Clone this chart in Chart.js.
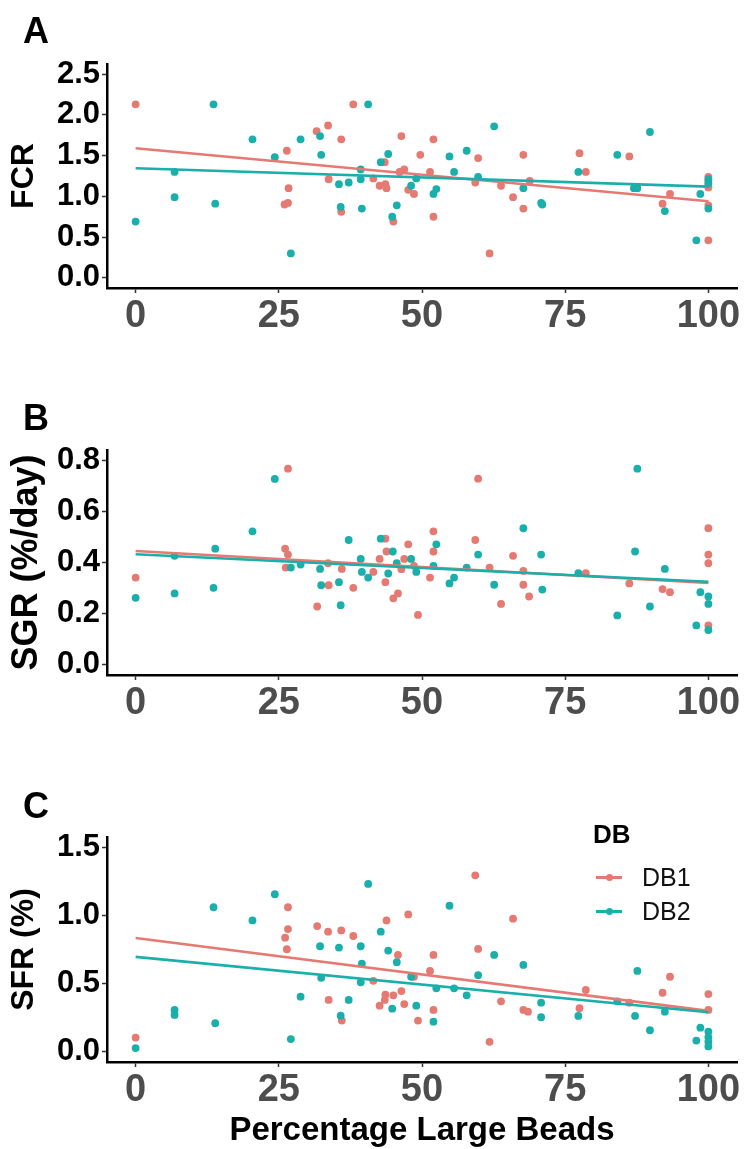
<!DOCTYPE html>
<html>
<head>
<meta charset="utf-8">
<script src="https://cdn.jsdelivr.net/npm/chart.js@4.4.1/dist/chart.umd.min.js"></script>
<style>
  body { margin: 0; background: #fff; }
  #wrap { position: relative; width: 745px; height: 1149px; background: #fff; font-family: "Liberation Sans", Arial, sans-serif; }
  #wrap canvas { position: absolute; left: 0; }
  .letter { position: absolute; left: 23px; font-size: 36px; font-weight: bold; line-height: 36px; color: #000; }
  .leg-title { position: absolute; left: 593px; top: 821px; font-size: 26px; font-weight: bold; line-height: 26px; }
  .leg-item { position: absolute; left: 596px; height: 26px; font-size: 25px; line-height: 26px; color: #111; }
  .leg-item .key { position: absolute; left: 0; top: 12px; width: 26px; height: 2.5px; }
  .leg-item .dot { position: absolute; left: 9.5px; top: -2.5px; width: 7px; height: 7px; border-radius: 50%; }
  .leg-item span.txt { position: absolute; left: 46px; top: 0; }
</style>
</head>
<body>
<div id="wrap">
  <canvas id="panelA" width="745" height="370" style="top:0px"></canvas>
  <canvas id="panelB" width="745" height="390" style="top:370px"></canvas>
  <canvas id="panelC" width="745" height="389" style="top:760px"></canvas>

  <div class="letter" style="top:13px">A</div>
  <div class="letter" style="top:400px">B</div>
  <div class="letter" style="top:788px">C</div>

  <div class="leg-title">DB</div>
  <div class="leg-item" style="top:864px"><div class="key" id="keyDb1"><div class="dot" id="dotDb1"></div></div><span class="txt">DB1</span></div>
  <div class="leg-item" style="top:898px"><div class="key" id="keyDb2"><div class="dot" id="dotDb2"></div></div><span class="txt">DB2</span></div>
</div>

<script>
// group colours
const colorDb1 = '#E47A72';
const colorDb2 = '#1AAFAA';

// x axis (percentage large beads)
const xTicks = [0, 25, 50, 75, 100];
const fitX = [0, 100];

// A - FCR
const fcrDb1X = [0, 26.4, 26.7, 26, 26.6, 31.6, 33.6, 35.9, 33.7, 38, 35.9, 43.5, 41.5, 42.6, 43.6, 43.8, 45, 46.4, 46.1, 46.9, 47.6, 48.6, 49.7, 52, 51.4, 52, 59.8, 59.3, 61.8, 63.8, 65.9, 67.7, 67.7, 68.8, 77.5, 78.6, 86.2, 92, 93.3, 100, 100, 100, 100, 100, 100];
const fcrDb1Y = [2.13, 1.56, 1.10, 0.90, 0.92, 1.80, 1.87, 1.70, 1.21, 2.13, 0.81, 1.42, 1.22, 1.13, 1.15, 1.10, 0.69, 1.74, 1.30, 1.33, 1.08, 1.03, 1.51, 1.70, 1.30, 0.75, 1.47, 1.17, 0.30, 1.13, 0.99, 1.51, 0.85, 1.19, 1.53, 1.30, 1.49, 0.91, 1.03, 1.24, 1.19, 1.13, 1.11, 0.89, 0.46];
const fcrDb2X = [0, 6.8, 6.8, 13.6, 13.9, 20.4, 24.3, 27.1, 28.8, 32.2, 32.4, 35.5, 37.2, 35.8, 39.3, 39.3, 39.5, 40.6, 42.8, 44.1, 48.1, 45.6, 44.8, 49, 52, 52.5, 54.8, 55.6, 57.8, 59.8, 62.6, 67.7, 70.8, 71, 77.3, 84.1, 87, 87.6, 89.8, 92.4, 97.9, 98.6, 100, 100, 100];
const fcrDb2Y = [0.69, 1.30, 0.99, 2.13, 0.91, 1.70, 1.48, 0.30, 1.70, 1.74, 1.51, 1.15, 1.17, 0.87, 1.33, 1.21, 0.85, 2.13, 1.42, 1.52, 1.13, 0.89, 0.75, 1.22, 1.03, 1.09, 1.49, 1.30, 1.56, 1.24, 1.86, 1.10, 0.92, 0.90, 1.30, 1.51, 1.10, 1.10, 1.79, 0.82, 0.46, 1.03, 1.21, 1.16, 0.85];
const fcrFitDb1 = [1.59, 0.94];
const fcrFitDb2 = [1.345, 1.12];

// B - SGR
const sgrDb1X = [0, 26.6, 26.1, 26.6, 26.2, 31.7, 33.7, 33.6, 36, 38, 41.5, 42.6, 43.6, 43.8, 43.6, 45, 45.8, 46.4, 46.9, 47.6, 48.6, 49.3, 52, 52, 51.4, 59.8, 59.3, 61.8, 63.8, 65.9, 67.7, 68.7, 67.7, 78.6, 86.2, 92, 93.3, 100, 100, 100, 100];
const sgrDb1Y = [0.341, 0.767, 0.454, 0.431, 0.380, 0.228, 0.311, 0.397, 0.375, 0.301, 0.363, 0.414, 0.493, 0.443, 0.323, 0.260, 0.279, 0.374, 0.414, 0.471, 0.387, 0.195, 0.522, 0.443, 0.341, 0.728, 0.488, 0.380, 0.238, 0.426, 0.313, 0.267, 0.367, 0.358, 0.318, 0.296, 0.284, 0.534, 0.431, 0.397, 0.154];
const sgrDb2X = [0, 6.8, 6.8, 13.9, 13.6, 20.4, 24.3, 27.1, 28.8, 32.2, 32.4, 35.5, 35.8, 37.2, 39.3, 39.5, 40.6, 42.8, 44.9, 44.1, 45.6, 48.1, 49, 54.8, 55.6, 52.5, 52, 57.8, 59.8, 62.6, 67.7, 70.8, 71, 77.3, 84.1, 87.2, 87.6, 89.8, 92.4, 97.9, 98.6, 100, 100, 100];
const sgrDb2Y = [0.262, 0.426, 0.279, 0.454, 0.301, 0.522, 0.727, 0.380, 0.392, 0.375, 0.311, 0.323, 0.233, 0.488, 0.414, 0.363, 0.341, 0.493, 0.443, 0.357, 0.397, 0.414, 0.363, 0.318, 0.341, 0.471, 0.387, 0.380, 0.431, 0.313, 0.534, 0.431, 0.294, 0.358, 0.193, 0.443, 0.767, 0.228, 0.375, 0.154, 0.284, 0.267, 0.238, 0.136];
const sgrFitDb1 = [0.445, 0.32];
const sgrFitDb2 = [0.432, 0.325];

// C - SFR
const sfrDb1X = [0, 26.6, 26.6, 26.1, 26.4, 31.7, 33.6, 35.9, 38, 33.7, 36, 41.5, 42.6, 43.6, 43.5, 43.8, 45, 45.8, 46.4, 46.9, 47.6, 48.6, 49.3, 52, 51.4, 52, 59.3, 59.8, 61.8, 63.8, 65.9, 67.7, 68.5, 78.6, 77.5, 86.2, 92, 93.3, 100, 100];
const sfrDb1Y = [0.104, 1.06, 0.90, 0.837, 0.752, 0.922, 0.881, 0.89, 0.849, 0.38, 0.229, 0.52, 0.338, 0.418, 0.38, 0.963, 0.414, 0.71, 0.445, 0.35, 1.007, 0.55, 0.229, 0.71, 0.593, 0.307, 1.294, 0.754, 0.073, 0.37, 0.976, 0.307, 0.294, 0.453, 0.319, 0.36, 0.433, 0.55, 0.423, 0.307];
const sfrDb2X = [0, 6.8, 6.8, 13.6, 13.9, 20.4, 24.3, 27.1, 28.8, 32.2, 32.4, 35.5, 35.8, 37.2, 39.3, 39.5, 39.3, 40.6, 42.8, 44.1, 45.6, 44.8, 48.1, 49, 52, 52.5, 54.8, 55.6, 57.8, 59.8, 62.6, 67.7, 70.8, 70.8, 77.3, 84.1, 87.6, 87.2, 89.8, 92.4, 97.9, 98.6, 100, 100, 100, 100];
const sfrDb2Y = [0.027, 0.307, 0.27, 1.06, 0.209, 0.963, 1.155, 0.093, 0.404, 0.774, 0.542, 0.764, 0.265, 0.38, 0.774, 0.647, 0.509, 1.231, 0.881, 0.742, 0.657, 0.316, 0.55, 0.338, 0.221, 0.465, 1.071, 0.465, 0.414, 0.562, 0.71, 0.637, 0.36, 0.253, 0.263, 0.37, 0.593, 0.263, 0.158, 0.294, 0.082, 0.177, 0.148, 0.107, 0.073, 0.039];
const sfrFitDb1 = [0.834, 0.30];
const sfrFitDb2 = [0.696, 0.29];

// legend keys take the group colours
document.getElementById('keyDb1').style.background = colorDb1;
document.getElementById('dotDb1').style.background = colorDb1;
document.getElementById('keyDb2').style.background = colorDb2;
document.getElementById('dotDb2').style.background = colorDb2;

const fontFam = '"Liberation Sans", Arial, sans-serif';

function toPoints(xs, ys) {
    return xs.map((x, i) => ({ x: x, y: ys[i] }));
}

function makePanel(id, p) {
    const ctx = document.getElementById(id).getContext('2d');
    const pad = p.yMax - p.yMin;
    return new Chart(ctx, {
        type: 'scatter',
        data: {
            datasets: [
                // lines first so they are drawn on top of the dots
                { type: 'line', data: toPoints(fitX, p.fit2), borderColor: colorDb2, borderWidth: 2.6, pointRadius: 0, fill: false },
                { type: 'line', data: toPoints(fitX, p.fit1), borderColor: colorDb1, borderWidth: 2.6, pointRadius: 0, fill: false },
                { data: toPoints(p.x2, p.y2), backgroundColor: colorDb2, borderWidth: 0, pointRadius: 3.9 },
                { data: toPoints(p.x1, p.y1), backgroundColor: colorDb1, borderWidth: 0, pointRadius: 3.9 }
            ]
        },
        options: {
            responsive: false,
            animation: false,
            layout: { padding: { top: p.padTop, right: 8, left: 0, bottom: 0 } },
            plugins: { legend: { display: false }, tooltip: { enabled: false } },
            scales: {
                x: {
                    type: 'linear',
                    min: -5, max: 105,
                    afterFit: s => { s.height = p.xHeight; },
                    afterBuildTicks: s => { s.ticks = xTicks.map(v => ({ value: v })); },
                    grid: { drawOnChartArea: false, drawTicks: true, tickLength: 5, tickColor: '#333', tickWidth: 1.5 },
                    border: { display: true, color: '#000', width: 2.5 },
                    ticks: { color: '#4D4D4D', font: { family: fontFam, size: 38, weight: 'bold' }, padding: 1, maxRotation: 0, autoSkip: false },
                    title: {
                        display: !!p.xTitle, text: p.xTitle || '', color: '#000',
                        font: { family: fontFam, size: 33, weight: 'bold', lineHeight: 0.8 }, padding: { top: 0, bottom: 5 }
                    }
                },
                y: {
                    type: 'linear',
                    min: p.yMin - pad * 0.05, max: p.yMax + pad * 0.05,
                    afterFit: s => { s.width = 107; },
                    afterBuildTicks: s => { s.ticks = p.yTicks.map(v => ({ value: v })); },
                    grid: { drawOnChartArea: false, drawTicks: true, tickLength: 5, tickColor: '#333', tickWidth: 1.5 },
                    border: { display: true, color: '#000', width: 2.5 },
                    ticks: { color: '#000', font: { family: fontFam, size: 31, weight: 'bold' }, padding: 2, callback: v => v.toFixed(1) },
                    title: {
                        display: true, text: p.yTitle, color: '#000',
                        font: { family: fontFam, size: p.yTitleSize, weight: 'bold', lineHeight: 1.2 }, padding: { top: 5, bottom: 0 }
                    }
                }
            }
        }
    });
}

makePanel('panelA', {
    x1: fcrDb1X, y1: fcrDb1Y, x2: fcrDb2X, y2: fcrDb2Y, fit1: fcrFitDb1, fit2: fcrFitDb2,
    yMin: 0, yMax: 2.5, yTicks: [0, 0.5, 1, 1.5, 2, 2.5], yTitle: 'FCR', yTitleSize: 32,
    padTop: 64, xHeight: 82
});

makePanel('panelB', {
    x1: sgrDb1X, y1: sgrDb1Y, x2: sgrDb2X, y2: sgrDb2Y, fit1: sgrFitDb1, fit2: sgrFitDb2,
    yMin: 0, yMax: 0.8, yTicks: [0, 0.2, 0.4, 0.6, 0.8], yTitle: 'SGR (%/day)', yTitleSize: 36,
    padTop: 80, xHeight: 85
});

makePanel('panelC', {
    x1: sfrDb1X, y1: sfrDb1Y, x2: sfrDb2X, y2: sfrDb2Y, fit1: sfrFitDb1, fit2: sfrFitDb2,
    yMin: 0, yMax: 1.5, yTicks: [0, 0.5, 1, 1.5], yTitle: 'SFR (%)', yTitleSize: 32,
    padTop: 77, xHeight: 87, xTitle: 'Percentage Large Beads'
});
</script>
</body>
</html>
